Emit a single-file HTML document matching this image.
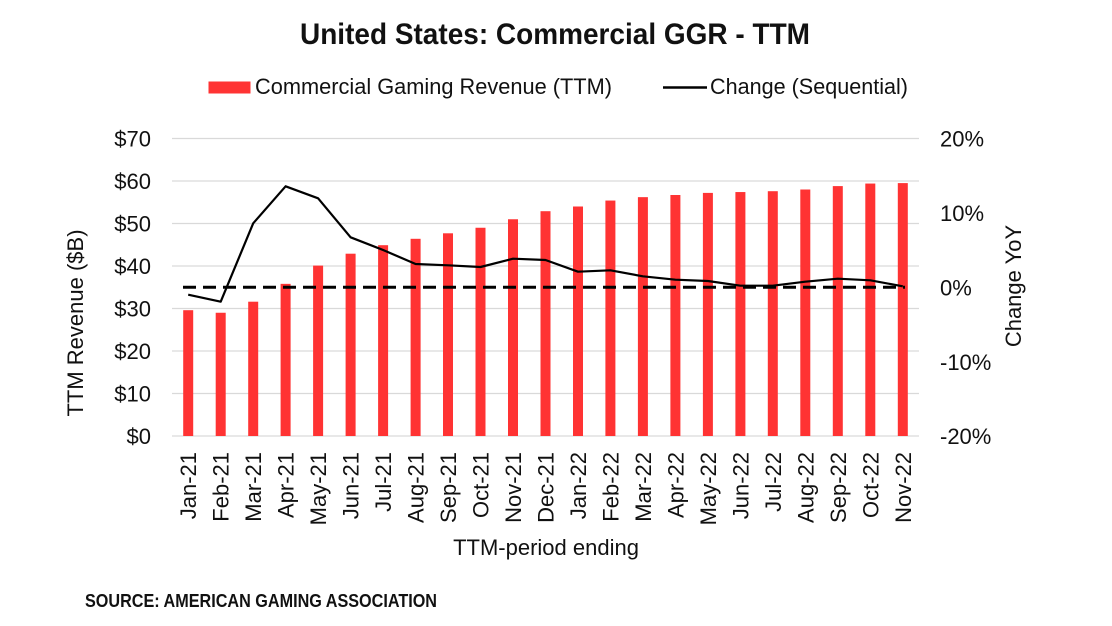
<!DOCTYPE html>
<html>
<head>
<meta charset="utf-8">
<style>
html,body{margin:0;padding:0;background:#fff;}
svg{display:block;}
text{font-family:"Liberation Sans",Arial,sans-serif;fill:#111;}
</style>
</head>
<body>
<svg width="1112" height="626" viewBox="0 0 1112 626" xmlns="http://www.w3.org/2000/svg">
<rect x="0" y="0" width="1112" height="626" fill="#fff"/>
<!-- Title -->
<text x="300" y="44" font-size="30" font-weight="bold" textLength="510" lengthAdjust="spacingAndGlyphs">United States: Commercial GGR - TTM</text>
<!-- Legend -->
<rect x="208.5" y="81.5" width="42" height="12" fill="#ff3333"/>
<text x="255" y="94" font-size="22" textLength="357" lengthAdjust="spacingAndGlyphs">Commercial Gaming Revenue (TTM)</text>
<line x1="663" y1="87.5" x2="707" y2="87.5" stroke="#000" stroke-width="2.5"/>
<text x="710" y="94" font-size="22" textLength="198" lengthAdjust="spacingAndGlyphs">Change (Sequential)</text>
<!-- Gridlines -->
<g stroke="#d9d9d9" stroke-width="1.2">
<line x1="172" y1="138.5" x2="919" y2="138.5"/>
<line x1="172" y1="181" x2="919" y2="181"/>
<line x1="172" y1="223.5" x2="919" y2="223.5"/>
<line x1="172" y1="266" x2="919" y2="266"/>
<line x1="172" y1="308.5" x2="919" y2="308.5"/>
<line x1="172" y1="351" x2="919" y2="351"/>
<line x1="172" y1="393.5" x2="919" y2="393.5"/>
<line x1="172" y1="436" x2="919" y2="436"/>
</g>
<!-- Bars -->
<g fill="#ff3333">
<rect x="183.2" y="310.2" width="10" height="125.8"/>
<rect x="215.7" y="312.75" width="10" height="123.25"/>
<rect x="248.2" y="301.7" width="10" height="134.3"/>
<rect x="280.6" y="283.85" width="10" height="152.15"/>
<rect x="313.1" y="265.6" width="10" height="170.4"/>
<rect x="345.6" y="253.7" width="10" height="182.3"/>
<rect x="378.1" y="245.2" width="10" height="190.8"/>
<rect x="410.6" y="238.8" width="10" height="197.2"/>
<rect x="443.0" y="233.3" width="10" height="202.7"/>
<rect x="475.5" y="227.75" width="10" height="208.25"/>
<rect x="508.0" y="219.25" width="10" height="216.75"/>
<rect x="540.5" y="211.2" width="10" height="224.8"/>
<rect x="573.0" y="206.5" width="10" height="229.5"/>
<rect x="605.4" y="200.55" width="10" height="235.45"/>
<rect x="637.9" y="197.15" width="10" height="238.85"/>
<rect x="670.4" y="195.0" width="10" height="241"/>
<rect x="702.9" y="192.9" width="10" height="243.1"/>
<rect x="735.4" y="192.05" width="10" height="243.95"/>
<rect x="767.8" y="191.2" width="10" height="244.8"/>
<rect x="800.3" y="189.5" width="10" height="246.5"/>
<rect x="832.8" y="186.1" width="10" height="249.9"/>
<rect x="865.3" y="183.55" width="10" height="252.45"/>
<rect x="897.8" y="183.1" width="10" height="252.9"/>
</g>
<!-- Solid line -->
<polyline fill="none" stroke="#000" stroke-width="2.2" stroke-linejoin="round"
points="188.2,294.7 220.7,301.7 253.2,223.3 285.6,186.3 318.1,198.3 350.6,237.3 383.1,250 415.6,264 448.0,265.3 480.5,267 513.0,258.7 545.5,260 578.0,271.7 610.4,270.3 642.9,276.3 675.4,279.7 707.9,281 740.4,285.7 772.8,285.7 805.3,281.7 837.8,278.7 870.3,280.3 902.8,286.3"/>
<!-- Dashed zero line -->
<line x1="183" y1="287.3" x2="905" y2="287.3" stroke="#000" stroke-width="3" stroke-dasharray="13 7"/>
<!-- Left ticks -->
<g font-size="22" text-anchor="end">
<text x="151" y="146.5">$70</text>
<text x="151" y="189">$60</text>
<text x="151" y="231.5">$50</text>
<text x="151" y="274">$40</text>
<text x="151" y="316.5">$30</text>
<text x="151" y="359">$20</text>
<text x="151" y="401.5">$10</text>
<text x="151" y="444">$0</text>
</g>
<!-- Right ticks -->
<g font-size="22">
<text x="940" y="146.5">20%</text>
<text x="940" y="221">10%</text>
<text x="940" y="295.5">0%</text>
<text x="940" y="370">-10%</text>
<text x="940" y="444">-20%</text>
</g>
<!-- Axis titles -->
<text font-size="22" text-anchor="middle" transform="translate(83,323) rotate(-90)">TTM Revenue ($B)</text>
<text font-size="22" text-anchor="middle" transform="translate(1021,286) rotate(-90)">Change YoY</text>
<text x="546" y="555" font-size="22" text-anchor="middle">TTM-period ending</text>
<!-- X labels -->
<g font-size="22" text-anchor="end">
<text transform="translate(196.2,452) rotate(-90)">Jan-21</text>
<text transform="translate(228.7,452) rotate(-90)">Feb-21</text>
<text transform="translate(261.2,452) rotate(-90)">Mar-21</text>
<text transform="translate(293.6,452) rotate(-90)">Apr-21</text>
<text transform="translate(326.1,452) rotate(-90)">May-21</text>
<text transform="translate(358.6,452) rotate(-90)">Jun-21</text>
<text transform="translate(391.1,452) rotate(-90)">Jul-21</text>
<text transform="translate(423.6,452) rotate(-90)">Aug-21</text>
<text transform="translate(456.0,452) rotate(-90)">Sep-21</text>
<text transform="translate(488.5,452) rotate(-90)">Oct-21</text>
<text transform="translate(521.0,452) rotate(-90)">Nov-21</text>
<text transform="translate(553.5,452) rotate(-90)">Dec-21</text>
<text transform="translate(586.0,452) rotate(-90)">Jan-22</text>
<text transform="translate(618.4,452) rotate(-90)">Feb-22</text>
<text transform="translate(650.9,452) rotate(-90)">Mar-22</text>
<text transform="translate(683.4,452) rotate(-90)">Apr-22</text>
<text transform="translate(715.9,452) rotate(-90)">May-22</text>
<text transform="translate(748.4,452) rotate(-90)">Jun-22</text>
<text transform="translate(780.8,452) rotate(-90)">Jul-22</text>
<text transform="translate(813.3,452) rotate(-90)">Aug-22</text>
<text transform="translate(845.8,452) rotate(-90)">Sep-22</text>
<text transform="translate(878.3,452) rotate(-90)">Oct-22</text>
<text transform="translate(910.8,452) rotate(-90)">Nov-22</text>
</g>
<!-- Source -->
<text x="85" y="607" font-size="18" font-weight="bold" textLength="352" lengthAdjust="spacingAndGlyphs">SOURCE: AMERICAN GAMING ASSOCIATION</text>
</svg>
</body>
</html>
